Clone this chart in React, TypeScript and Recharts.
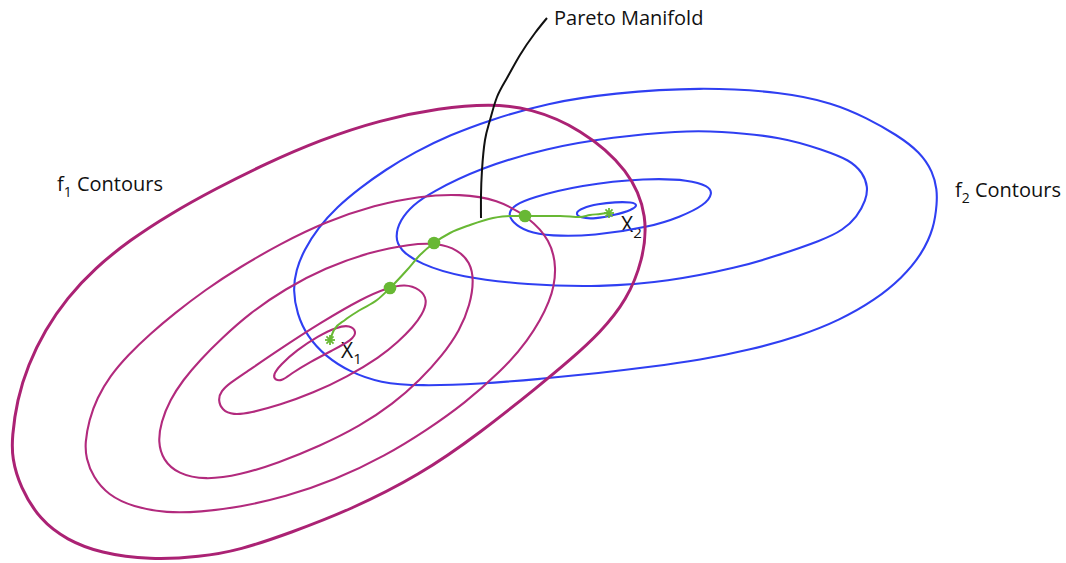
import React from 'react';
import { ComposedChart, Line, Scatter, XAxis, YAxis } from 'recharts';

type P = { x: number; y: number };
const pts = (a: number[][]): P[] => a.map(([x, y]) => ({ x, y }));

// f1 contours (magenta), innermost to outermost
const f1Contour1 = pts([[357,332],[352,340],[333,350],[310,362],[292,373],[282,381],[275,380],[273,375],[280,365],[297,350],[318,336],[337,327],[350,325]]);
const f1Contour2 = pts([[428,300],[422,315],[413,327],[398,342],[380,357],[347,377],[313,393],[280,405],[250,413],[233,415],[222,410],[218,400],[221,391],[230,383],[245,373],[280,349],[320,323],[363,298],[387,288],[405,284],[420,289]]);
const f1Contour3 = pts([[474,280],[470,305],[460,330],[442,356],[420,380],[393,404],[360,426],[320,446],[278,463],[240,475],[205,480],[178,474],[163,460],[158,442],[161,422],[170,400],[183,380],[200,360],[222,338],[250,313],[285,289],[325,268],[370,252],[410,244],[438,243],[458,250],[470,262]]);
const f1Contour4 = pts([[557,267],[552,300],[527,343],[500,372],[465,403],[427,430],[385,456],[335,480],[285,497],[240,507],[200,512],[167,513],[133,507],[108,495],[93,477],[86,458],[85,443],[89,420],[97,398],[110,376],[128,355],[150,334],[175,313],[205,290],[240,267],[280,244],[325,222],[375,205],[420,196],[460,194],[497,199],[530,218],[550,240]]);
const f1Contour5 = pts([[648,217],[643,260],[627,300],[600,333],[570,360],[540,385],[480,433],[420,475],[350,510],[290,533],[240,550],[200,557],[150,560],[100,553],[67,540],[40,520],[20,487],[12,458],[12,437],[17,400],[28,365],[45,330],[67,298],[95,268],[130,240],[170,214],[215,189],[265,164],[320,140],[380,120],[440,108],[490,104],[530,108],[580,128],[630,170]]);

// f2 contours (blue), innermost to outermost
const f2Contour1 = pts([[638,205],[632,210],[615,215],[595,219],[580,218],[575,213],[582,208],[598,204],[615,202],[632,202]]);
const f2Contour2 = pts([[713,193],[705,205],[680,217],[650,227],[593,236],[550,236],[527,232],[512,222],[508,213],[515,205],[530,198],[580,185],[647,178],[690,180],[708,186]]);
const f2Contour3 = pts([[868,187],[866,200],[857,217],[843,230],[823,240],[773,257],[740,267],[667,282],[600,287],[527,285],[460,277],[420,264],[400,250],[395,237],[400,220],[413,205],[430,193],[480,168],[547,148],[613,137],[680,131],[717,131],[783,137],[823,150],[850,160],[863,173]]);
const f2Contour4 = pts([[937,203],[934,228],[922,254],[902,278],[875,300],[840,320],[800,336],[750,350],[700,360],[650,367],[600,373],[540,379],[480,384],[420,386],[380,383],[350,372],[325,356],[307,336],[297,314],[293,290],[296,270],[304,250],[318,228],[337,207],[360,188],[385,170],[415,152],[450,135],[490,120],[547,103],[613,93],[700,87],[783,92],[833,103],[867,118],[897,135],[920,152],[933,172],[937,190]]);

// Pareto manifold path (green) and its marked points
const paretoPath = pts([[330,340],[334,330],[345,320],[360,310],[377,300],[390,288],[407,270],[420,255],[434,243],[450,233],[470,225],[493,218],[510,216],[525,216],[560,216],[580,217],[590,215],[600,214],[608,213]]);
const paretoDots = pts([[390,288],[434,243],[525,216]]);
const optima = pts([[330,340],[609,213]]);

// leader line to the label
const leader = pts([[481,218],[481,195],[482,170],[485,140],[490,120],[497,97],[507,78],[520,55],[535,33],[547,18]]);

const MAGENTA = '#b22a7d';
const MAGENTA_OUT = '#ab2274';
const BLUE = '#2f3ff2';
const GREEN = '#68b834';
const FONT = '"Open Sans", "Noto Sans", sans-serif';

const Asterisk = (props: any) => {
  const { cx, cy } = props;
  const r = 5;
  const lines = [0, 45, 90, 135].map((a) => {
    const t = (a * Math.PI) / 180;
    return (
      <line key={a} x1={cx - r * Math.cos(t)} y1={cy - r * Math.sin(t)} x2={cx + r * Math.cos(t)} y2={cy + r * Math.sin(t)} stroke={GREEN} strokeWidth={1.8} />
    );
  });
  return <g>{lines}</g>;
};

const Dot = (props: any) => <circle cx={props.cx} cy={props.cy} r={6.3} fill={GREEN} />;

const f1List = [f1Contour1, f1Contour2, f1Contour3, f1Contour4];
const f2List = [f2Contour1, f2Contour2, f2Contour3, f2Contour4];

export default function App() {
  return (
    <div style={{ position: 'absolute', left: 0, top: 0, width: 1066, height: 563, background: '#fff' }}>
      <ComposedChart width={1066} height={563} margin={{ top: 0, right: 0, bottom: 0, left: 0 }}>
        <XAxis type="number" dataKey="x" domain={[0, 1066]} hide allowDataOverflow />
        <YAxis type="number" dataKey="y" domain={[0, 563]} reversed hide allowDataOverflow />
        {f2List.map((d, i) => (
          <Line key={'b' + i} data={d} dataKey="y" type="basisClosed" stroke={BLUE} strokeWidth={2.1} dot={false} activeDot={false} isAnimationActive={false} />
        ))}
        {f1List.map((d, i) => (
          <Line key={'m' + i} data={d} dataKey="y" type="basisClosed" stroke={MAGENTA} strokeWidth={2.1} dot={false} activeDot={false} isAnimationActive={false} />
        ))}
        <Line data={f1Contour5} dataKey="y" type="basisClosed" stroke={MAGENTA_OUT} strokeWidth={3} dot={false} activeDot={false} isAnimationActive={false} />
        <Line data={leader} dataKey="y" type="natural" stroke="#111" strokeWidth={2} dot={false} activeDot={false} isAnimationActive={false} />
        <Line data={paretoPath} dataKey="y" type="monotone" stroke={GREEN} strokeWidth={2} dot={false} activeDot={false} isAnimationActive={false} />
        <Scatter data={paretoDots} dataKey="y" shape={Dot} isAnimationActive={false} />
        <Scatter data={optima} dataKey="y" shape={Asterisk} isAnimationActive={false} />
        <text x={554} y={25} fontSize={20} fontFamily={FONT} fill="#111">Pareto Manifold</text>
        <text x={57} y={191} fontSize={20} fontFamily={FONT} fill="#111">
          f<tspan dy={6} fontSize={14}>1</tspan><tspan dy={-6}> Contours</tspan>
        </text>
        <text x={955} y={197} fontSize={20} fontFamily={FONT} fill="#111">
          f<tspan dy={6} fontSize={14}>2</tspan><tspan dy={-6}> Contours</tspan>
        </text>
        <text x={341} y={358} fontSize={21} fontFamily={FONT} fill="#111">
          X<tspan dy={6} fontSize={15}>1</tspan>
        </text>
        <text x={621} y={232} fontSize={21} fontFamily={FONT} fill="#111">
          X<tspan dy={6} fontSize={15}>2</tspan>
        </text>
      </ComposedChart>
    </div>
  );
}
